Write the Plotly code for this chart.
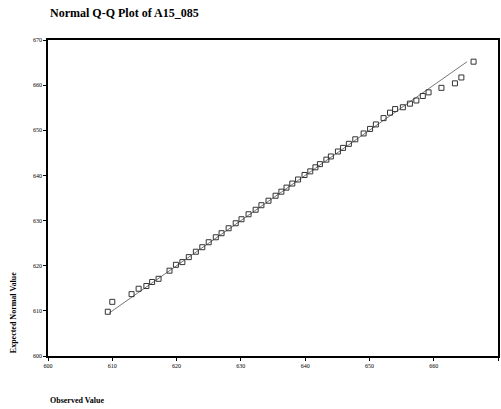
import plotly.graph_objects as go

observed = [609.3, 610.0, 613.0, 614.1, 615.3, 616.2, 617.2, 618.9, 619.9, 620.9,
            621.9, 623.0, 624.0, 625.0, 626.1, 627.0, 628.1, 629.2, 630.1, 631.2,
            632.3, 633.2, 634.3, 635.4, 636.3, 637.1, 638.0, 638.9, 639.9, 640.8,
            641.6, 642.3, 643.3, 644.0, 645.1, 645.9, 646.8, 647.8, 649.1, 650.1,
            651.0, 652.2, 653.2, 654.0, 655.2, 656.3, 657.3, 658.3, 659.2, 661.2,
            663.3, 664.3, 666.2]
expected = [609.8, 612.0, 613.7, 614.9, 615.5, 616.4, 617.1, 618.9, 620.2, 620.8,
            621.9, 623.1, 624.1, 625.2, 626.3, 627.2, 628.3, 629.4, 630.3, 631.4,
            632.4, 633.4, 634.4, 635.5, 636.4, 637.3, 638.2, 639.1, 640.1, 640.9,
            641.8, 642.5, 643.5, 644.2, 645.3, 646.1, 647.0, 648.0, 649.3, 650.3,
            651.3, 652.7, 653.9, 654.7, 655.1, 655.9, 656.6, 657.6, 658.4, 659.4,
            660.4, 661.7, 665.2]
line_ends = [609.5, 665.2]
tick_vals = [600, 610, 620, 630, 640, 650, 660, 670]
tick_text = ["600", "610", "620", "630", "640", "650", "660", "670"]

fig = go.Figure()
fig.add_trace(go.Scatter(x=line_ends, y=line_ends, mode="lines",
                         line=dict(color="#777777", width=1), hoverinfo="skip"))
fig.add_trace(go.Scatter(x=observed, y=expected, mode="markers",
                         marker=dict(symbol="square-open", size=5,
                                     color="#333333", line=dict(width=1))))

serif = "Liberation Serif"
axis_common = dict(range=[600, 670], tickvals=tick_vals, ticktext=tick_text,
                   showgrid=False, zeroline=False, showline=True, mirror=True,
                   linecolor="black", linewidth=1.5, ticks="outside", ticklen=3,
                   tickcolor="black",
                   tickfont=dict(family=serif, size=6, color="black"))
fig.update_xaxes(**axis_common)
fig.update_yaxes(**axis_common)

fig.update_layout(
    width=501, height=409, showlegend=False,
    margin=dict(l=48, r=1, t=40, b=53),
    plot_bgcolor="white", paper_bgcolor="white",
    annotations=[
        dict(text="<b>Normal Q-Q Plot of A15_085</b>", x=0.0, y=1.084,
             xref="paper", yref="paper", xanchor="left", yanchor="middle",
             showarrow=False, font=dict(family=serif, size=12, color="black")),
        dict(text="<b>Expected Normal Value</b>", x=-0.0774, y=0.136,
             xref="paper", yref="paper", xanchor="center", yanchor="middle",
             textangle=-90, showarrow=False,
             font=dict(family=serif, size=8, color="black")),
        dict(text="<b>Observed Value</b>", x=0.0, y=-0.142,
             xref="paper", yref="paper", xanchor="left", yanchor="middle",
             showarrow=False, font=dict(family=serif, size=8, color="black")),
    ],
)

fig.write_html("out.html", config={"displayModeBar": False},
               post_script="document.body.style.margin='0';document.body.style.overflow='hidden';")
